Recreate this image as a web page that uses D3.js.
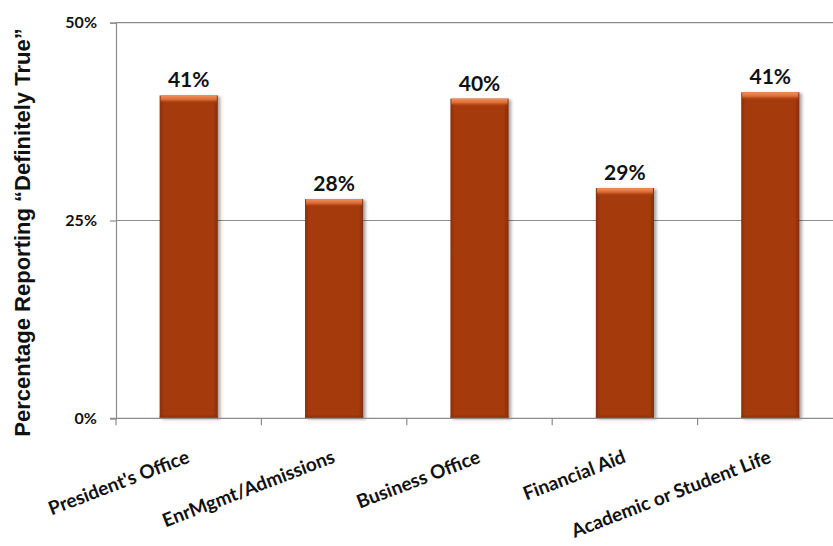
<!DOCTYPE html>
<html>
<head>
<meta charset="utf-8">
<script src="https://cdn.jsdelivr.net/npm/d3@7"></script>
<style>
  html, body { margin: 0; padding: 0; background: #fff; }
  svg { display: block; }
</style>
</head>
<body>
<svg id="chart" width="833" height="546"></svg>
<script>
const categories = ["President's Office", "EnrMgmt/Admissions", "Business Office", "Financial Aid", "Academic or Student Life"];
const values = [40.8, 27.7, 40.4, 29.1, 41.2];
const valueLabels = ["41%", "28%", "40%", "29%", "41%"];
const yTicks = [0, 25, 50];
const yTickLabels = ["0%", "25%", "50%"];
const yTitle = "Percentage Reporting \u201CDefinitely True\u201D";

const svg = d3.select("#chart");
const pLeft = 116, pRight = 843, pTop = 22.7, pBottom = 418.3;

const x = d3.scaleBand().domain(categories).range([pLeft, pRight]).paddingInner(0.6).paddingOuter(0.3);
const y = d3.scaleLinear().domain([0, 50]).range([pBottom, pTop]);

const defs = svg.append("defs");
const hg = defs.append("linearGradient").attr("id", "barH").attr("x1", 0).attr("x2", 1).attr("y1", 0).attr("y2", 0);
hg.append("stop").attr("offset", "0%").attr("stop-color", "#8c2f08");
hg.append("stop").attr("offset", "8%").attr("stop-color", "#a53b0b");
hg.append("stop").attr("offset", "92%").attr("stop-color", "#a53b0b");
hg.append("stop").attr("offset", "100%").attr("stop-color", "#862c07");
const tg = defs.append("linearGradient").attr("id", "barTop").attr("x1", 0).attr("x2", 0).attr("y1", 0).attr("y2", 1);
tg.append("stop").attr("offset", "0%").attr("stop-color", "#f29060");
tg.append("stop").attr("offset", "50%").attr("stop-color", "#db6c34");
tg.append("stop").attr("offset", "100%").attr("stop-color", "#a53b0b").attr("stop-opacity", 0);
const bg = defs.append("linearGradient").attr("id", "barBot").attr("x1", 0).attr("x2", 0).attr("y1", 0).attr("y2", 1);
bg.append("stop").attr("offset", "0%").attr("stop-color", "#8a2e08").attr("stop-opacity", 0);
bg.append("stop").attr("offset", "100%").attr("stop-color", "#8a2e08");
const f = defs.append("filter").attr("id", "shadow").attr("x", "-20%").attr("y", "-20%").attr("width", "150%").attr("height", "140%");
f.append("feDropShadow").attr("dx", 2.5).attr("dy", 1).attr("stdDeviation", 1.6).attr("flood-color", "#000").attr("flood-opacity", 0.35);

// gridlines
svg.append("g").selectAll("line").data(yTicks.filter(d => d > 0)).join("line")
  .attr("x1", pLeft).attr("x2", 833).attr("y1", d => y(d)).attr("y2", d => y(d))
  .attr("stroke", "#8c8c8c").attr("stroke-width", 1.2);

// bars
const bars = svg.append("g").selectAll("g").data(categories).join("g");
bars.append("rect")
  .attr("x", d => x(d)).attr("width", x.bandwidth())
  .attr("y", (d, i) => y(values[i])).attr("height", (d, i) => y(0) - y(values[i]))
  .attr("fill", "url(#barH)").attr("filter", "url(#shadow)");
bars.append("rect")
  .attr("x", d => x(d) + 1).attr("width", x.bandwidth() - 2)
  .attr("y", (d, i) => y(values[i])).attr("height", 8)
  .attr("fill", "url(#barTop)");
bars.append("rect")
  .attr("x", d => x(d)).attr("width", x.bandwidth())
  .attr("y", y(0) - 4).attr("height", 4)
  .attr("fill", "url(#barBot)");

// value labels
svg.append("g").selectAll("text").data(categories).join("text")
  .attr("x", d => x(d) + x.bandwidth() / 2).attr("y", (d, i) => y(values[i]) - 8)
  .attr("text-anchor", "middle")
  .attr("font-family", "Lato, 'Open Sans', sans-serif").attr("font-weight", "bold").attr("font-size", 21)
  .attr("fill", "#111").text((d, i) => valueLabels[i]);

// y axis
const yAxis = d3.axisLeft(y).tickValues(yTicks).tickFormat((d, i) => yTickLabels[i]).tickSize(6).tickPadding(13);
const ya = svg.append("g").attr("transform", `translate(${pLeft},0)`).call(yAxis);
ya.select(".domain").attr("stroke", "#8c8c8c").attr("stroke-width", 1.2);
ya.selectAll(".tick line").attr("stroke", "#8c8c8c").attr("stroke-width", 1.2);
ya.selectAll(".tick text").attr("font-family", "Lato, 'Open Sans', sans-serif").attr("font-weight", "bold")
  .attr("font-size", 16).attr("fill", "#111");

// x axis
svg.append("line").attr("x1", pLeft - 6).attr("x2", 833).attr("y1", y(0)).attr("y2", y(0))
  .attr("stroke", "#8c8c8c").attr("stroke-width", 1.2);
const boundaries = categories.map(d => x(d) - x.step() * x.paddingInner() / 2).concat([pRight]);
svg.append("g").selectAll("line").data(boundaries).join("line")
  .attr("x1", d => d).attr("x2", d => d).attr("y1", y(0)).attr("y2", y(0) + 7)
  .attr("stroke", "#8c8c8c").attr("stroke-width", 1.2);

svg.append("g").selectAll("text").data(categories).join("text")
  .attr("transform", d => `translate(${x(d) + x.bandwidth() / 2 + 2},462) rotate(-21)`)
  .attr("text-anchor", "end")
  .attr("font-family", "Lato, 'Open Sans', sans-serif").attr("font-weight", "bold").attr("font-size", 19)
  .attr("fill", "#111").text(d => d);

// y title
svg.append("text")
  .attr("transform", `translate(30,${(pTop + pBottom) / 2 + 12}) rotate(-90)`)
  .attr("text-anchor", "middle")
  .attr("font-family", "'Liberation Sans', Arial, sans-serif").attr("font-weight", "bold").attr("font-size", 22)
  .attr("fill", "#111").text(yTitle);
</script>
</body>
</html>
